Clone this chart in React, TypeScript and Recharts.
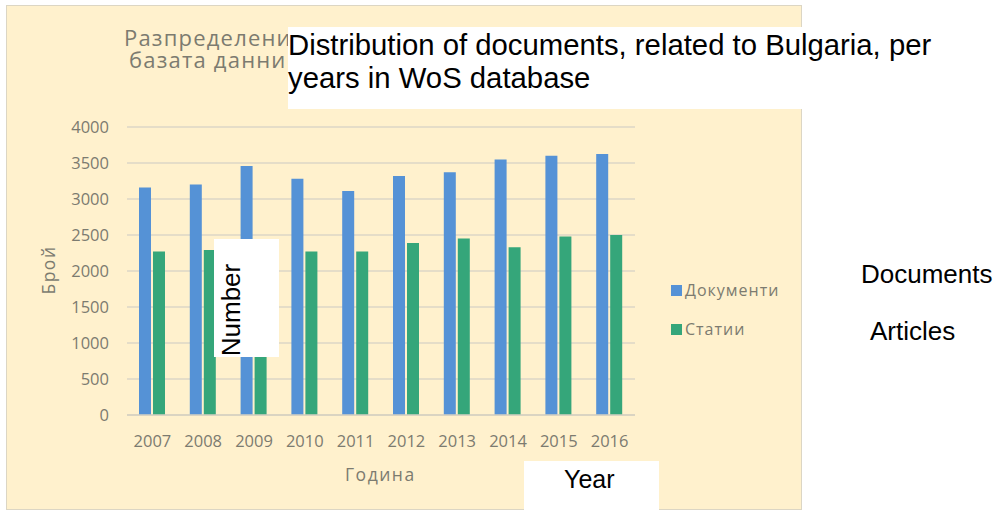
import React from 'react';
import { BarChart, Bar, XAxis, YAxis, CartesianGrid, Legend } from 'recharts';

const years = ['2007', '2008', '2009', '2010', '2011', '2012', '2013', '2014', '2015', '2016'];
const documents = [3160, 3200, 3460, 3280, 3110, 3320, 3370, 3550, 3600, 3625];
const articles = [2270, 2290, 2390, 2270, 2270, 2390, 2450, 2330, 2480, 2500];
const yTicks = [0, 500, 1000, 1500, 2000, 2500, 3000, 3500, 4000];

const seriesNames = { documents: 'Документи', articles: 'Статии' };
const titleBg = ['Разпределение на документите, свързани с България, по години в', 'базата данни Web of Science'];
const titleEn = ['Distribution of documents, related to Bulgaria, per', 'years in WoS database'];
const axisBg = { x: 'Година', y: 'Брой' };
const axisEn = { x: 'Year', y: 'Number' };
const legendEn = ['Documents', 'Articles'];

const data = years.map((y, i) => ({ year: y, documents: documents[i], articles: articles[i] }));

const BLUE = '#5592D6';
const GREEN = '#35A67A';
const GREY = '#7c7b70';
const UIFONT = '"Open Sans", "Noto Sans", sans-serif';
const ARIAL = '"Liberation Sans", Arial, sans-serif';

const LegendContent = (props: any) => {
  const { payload } = props;
  return (
    <div style={{ fontFamily: UIFONT, fontSize: 16, letterSpacing: 1, color: GREY }}>
      {(payload || []).map((p: any, i: number) => (
        <div key={i} style={{ display: 'flex', alignItems: 'center', height: 20, marginBottom: i === 0 ? 19 : 0 }}>
          <span style={{ display: 'inline-block', width: 11, height: 11, background: p.color, marginRight: 3 }} />
          <span>{p.value}</span>
        </div>
      ))}
    </div>
  );
};

export default function App() {
  return (
    <div style={{ position: 'absolute', left: 0, top: 0, width: 999, height: 512, background: '#fff', overflow: 'hidden' }}>
      <div style={{ position: 'absolute', left: 6, top: 5, width: 794, height: 503, background: '#FFF1CD', border: '1px solid #DCD6C4' }} />
      <div style={{ position: 'absolute', left: 124, top: 26, fontFamily: UIFONT, fontSize: 22, letterSpacing: 1.2, color: GREY, lineHeight: '22px', whiteSpace: 'nowrap' }}>
        <div>{titleBg[0]}</div>
        <div style={{ paddingLeft: 5 }}>{titleBg[1]}</div>
      </div>
      <div style={{ position: 'absolute', left: 0, top: 0 }}>
        <BarChart width={999} height={512} data={data} margin={{ top: 127, right: 364, bottom: 67, left: 67 }} barSize={12} barGap={2}>
          <CartesianGrid vertical={false} stroke="#DCD6C6" strokeWidth={1.3} />
          <XAxis dataKey="year" height={30} axisLine={{ stroke: '#D6D0C0', strokeWidth: 1.3 }} tickLine={false} tickMargin={14} tick={{ fill: GREY, fontSize: 16.5, fontFamily: UIFONT }} />
          <YAxis width={60} domain={[0, 4000]} ticks={yTicks} axisLine={false} tickLine={false} tickMargin={12} tick={{ fill: GREY, fontSize: 16.5, fontFamily: UIFONT }} />
          <Bar dataKey="documents" name={seriesNames.documents} fill={BLUE} isAnimationActive={false} />
          <Bar dataKey="articles" name={seriesNames.articles} fill={GREEN} isAnimationActive={false} />
          <Legend layout="vertical" align="center" verticalAlign="middle" content={<LegendContent />} wrapperStyle={{ position: 'absolute', left: 671, top: 280, width: 130 }} />
        </BarChart>
      </div>
      <div style={{ position: 'absolute', left: 345, top: 462, fontFamily: UIFONT, fontSize: 17.5, letterSpacing: 1.5, color: GREY }}>{axisBg.x}</div>
      <div style={{ position: 'absolute', left: 48, top: 270, transform: 'translate(-50%, -50%) rotate(-90deg)', fontFamily: UIFONT, fontSize: 17.5, letterSpacing: 1.5, color: GREY, whiteSpace: 'nowrap' }}>{axisBg.y}</div>

      <div style={{ position: 'absolute', left: 288, top: 27, width: 660, height: 82, background: '#fff' }}>
        <div style={{ fontFamily: ARIAL, fontSize: 29.3, lineHeight: '32.5px', color: '#000', paddingTop: 2, whiteSpace: 'nowrap' }}>
          <div>{titleEn[0]}</div>
          <div>{titleEn[1]}</div>
        </div>
      </div>
      <div style={{ position: 'absolute', left: 214, top: 239, width: 65, height: 118, background: '#fff' }}>
        <div style={{ position: 'absolute', left: 17, top: 71, transform: 'translate(-50%, -50%) rotate(-90deg)', fontFamily: ARIAL, fontSize: 26, color: '#000', whiteSpace: 'nowrap', lineHeight: '30px' }}>{axisEn.y}</div>
      </div>
      <div style={{ position: 'absolute', left: 524, top: 461, width: 135, height: 60, background: '#fff' }}>
        <div style={{ position: 'absolute', left: 40, top: 4, fontFamily: ARIAL, fontSize: 25, color: '#000', whiteSpace: 'nowrap', lineHeight: '28px' }}>{axisEn.x}</div>
      </div>
      <div style={{ position: 'absolute', left: 861, top: 259, fontFamily: ARIAL, fontSize: 26, color: '#000', whiteSpace: 'nowrap', lineHeight: '30px' }}>{legendEn[0]}</div>
      <div style={{ position: 'absolute', left: 870, top: 316, fontFamily: ARIAL, fontSize: 26, color: '#000', whiteSpace: 'nowrap', lineHeight: '30px' }}>{legendEn[1]}</div>
    </div>
  );
}
